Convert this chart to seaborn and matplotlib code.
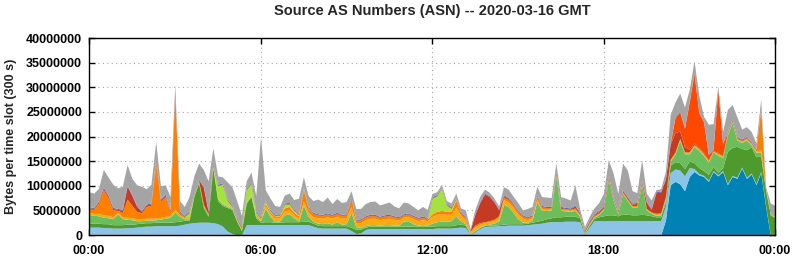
import numpy as np
import pandas as pd
import matplotlib
matplotlib.use('Agg')
import matplotlib.pyplot as plt
import seaborn as sb
from matplotlib.ticker import FuncFormatter, MultipleLocator

# values in millions of bytes per 300 s slot, one value every 10 minutes (00:00 .. 24:00)
slot_minutes = 10
time_labels = ['00:00', '06:00', '12:00', '18:00', '00:00']

dark_blue = [
    0, 0, 0, 0, 0, 0, 0, 0, 0, 0, 0, 0,
    0, 0, 0, 0, 0, 0, 0, 0, 0, 0, 0, 0,
    0, 0, 0, 0, 0, 0, 0, 0, 0, 0, 0, 0,
    0, 0, 0, 0, 0, 0, 0, 0, 0, 0, 0, 0,
    0, 0, 0, 0, 0, 0, 0, 0, 0, 0, 0, 0,
    0, 0, 0, 0, 0, 0, 0, 0, 0, 0, 0, 0,
    0, 0, 0, 0, 0, 0, 0, 0, 0, 0, 0, 0,
    0, 0, 0, 0, 0, 0, 0, 0, 0, 0, 0, 0,
    0, 0, 0, 0, 0, 0, 0, 0, 0, 0, 0, 0,
    0, 0, 0, 0, 0, 0, 0, 0, 0, 0, 0, 0,
    0, 3.0, 10.2, 10.9, 10.4, 9.0, 11.9, 12.9, 12.2, 11.9, 10.9, 12.9,
    12.0, 12.9, 10.2, 11.9, 11.5, 13.6, 11.5, 12.4, 10.2, 12.7, 6.0, 0,
    0]

light_blue = [
    1.6, 1.6, 1.6, 1.5, 1.5, 1.4, 1.4, 1.4, 1.5, 1.5, 1.6, 1.7,
    1.8, 1.8, 1.9, 1.9, 1.9, 1.9, 1.9, 2.0, 2.2, 2.4, 2.5, 2.6,
    2.6, 2.6, 2.5, 2.3, 1.8, 0.8, 0.3, 0.0, 0.0, 2.1, 2.1, 2.1,
    2.1, 2.1, 2.1, 2.1, 2.1, 2.1, 2.1, 2.1, 2.1, 2.1, 2.1, 1.8,
    1.5, 1.4, 1.4, 1.4, 1.4, 1.4, 1.4, 0.9, 0.3, 0.4, 1.1, 1.3,
    1.3, 1.3, 1.3, 1.3, 1.3, 1.3, 1.3, 1.3, 1.3, 1.3, 1.3, 1.3,
    1.3, 1.4, 1.4, 1.4, 1.4, 1.5, 1.6, 1.5, 0.1, 0.6, 1.3, 1.7,
    1.8, 1.8, 1.9, 1.9, 2.0, 2.0, 2.0, 2.0, 2.1, 2.2, 2.3, 2.4,
    2.6, 2.7, 2.7, 2.7, 2.8, 2.8, 2.8, 2.7, 0.1, 1.6, 2.9, 2.9,
    2.9, 2.9, 2.9, 2.9, 2.9, 2.9, 2.9, 2.9, 2.9, 2.9, 2.9, 2.9,
    2.9, 2.9, 2.5, 2.5, 2.8, 3.0, 1.8, 0.6, 0.3, 0.2, 0.2, 0.2,
    0.2, 0.2, 0.2, 0.2, 0.2, 0.2, 0.2, 0.2, 0.2, 0.2, 0.2, 0.1,
    0.1]

dark_green = [
    0.8, 0.8, 0.8, 0.8, 0.8, 0.7, 0.7, 0.7, 0.7, 0.7, 0.7, 0.7,
    0.7, 0.7, 0.7, 0.7, 0.7, 0.7, 0.8, 0.8, 0.8, 0.6, 5.3, 8.0,
    3.0, 1.2, 11.1, 4.7, 4.2, 4.8, 4.9, 2.8, 0.9, 4.4, 5.7, 1.4,
    0.5, 0.6, 0.6, 0.5, 0.5, 0.6, 0.6, 0.6, 0.6, 0.7, 0.7, 0.6,
    0.5, 0.5, 0.5, 0.5, 0.5, 0.5, 0.5, 0.7, 0.9, 0.8, 0.5, 0.5,
    0.5, 0.5, 0.5, 0.5, 0.5, 0.5, 0.5, 0.5, 0.5, 0.5, 0.5, 0.5,
    0.5, 0.5, 0.5, 0.5, 0.5, 0.6, 0.6, 0.5, 0.1, 0.2, 0.2, 0.2,
    0.2, 0.2, 0.2, 0.3, 0.3, 0.3, 0.3, 0.3, 0.3, 0.4, 0.5, 0.6,
    0.7, 0.8, 1.0, 1.0, 1.0, 1.0, 1.0, 0.8, 0.2, 0.4, 0.5, 0.8,
    1.0, 1.2, 1.2, 1.0, 1.4, 1.3, 1.2, 1.2, 1.3, 1.2, 1.0, 0.8,
    0.8, 0.8, 1.5, 1.5, 1.5, 1.5, 1.3, 1.2, 1.2, 1.0, 1.2, 0.8,
    0.5, 0.6, 6.6, 5.7, 6.3, 3.8, 5.6, 5.3, 5.5, 3.1, 3.0, 4.0,
    3.4]

mid_green = [
    1.8, 1.6, 1.5, 1.3, 1.2, 1.2, 2.2, 1.2, 1.0, 0.9, 0.6, 0.5,
    0.5, 0.5, 0.5, 0.6, 0.8, 1.0, 2.0, 1.0, 0.3, 0.3, 0.3, 0.3,
    0.3, 0.3, 0.3, 0.3, 0.3, 0.2, 0.2, 0.1, 0.1, 0.2, 0.2, 0.3,
    0.3, 2.7, 1.1, 0.1, 0.3, 1.4, 1.6, 0.8, 0.1, 3.3, 1.0, 0.4,
    0.4, 0.4, 0.6, 0.3, 0.8, 0.3, 0.4, 3.0, 0.5, 0.3, 0.3, 0.3,
    0.3, 0.2, 0.3, 0.3, 0.2, 0.2, 1.0, 1.1, 0.5, 0.2, 0.3, 0.2,
    0.6, 0.8, 0.9, 0.9, 1.0, 1.8, 0.6, 0.3, 0.1, 0.1, 0.1, 0.1,
    0.2, 0.4, 0.8, 4.0, 3.5, 2.3, 1.0, 0.3, 0.2, 0.4, 4.0, 2.0,
    1.7, 1.6, 8.3, 1.3, 1.1, 1.0, 1.2, 0.3, 0.1, 0.2, 0.2, 0.5,
    1.3, 7.2, 3.0, 0.4, 4.1, 2.8, 1.6, 1.6, 6.1, 1.0, 0.5, 0.3,
    0.4, 0.6, 0.8, 1.5, 4.5, 3.0, 1.5, 3.3, 3.5, 3.0, 2.5, 3.0,
    3.5, 2.0, 3.3, 5.0, 1.3, 1.2, 2.0, 0.4, 0.9, 0.8, 0.1, 0.1,
    0.1]

amber = [
    0.4, 0.4, 0.5, 0.5, 0.5, 0.4, 0.3, 0.4, 0.4, 0.4, 0.4, 0.4,
    0.4, 0.4, 0.4, 0.4, 0.4, 0.4, 0.5, 0.3, 0.2, 0.2, 0.1, 0.1,
    0.1, 0.1, 0.1, 0.1, 0.1, 0.1, 0.1, 0.1, 0.2, 0.1, 0.1, 0.2,
    0.2, 0.5, 0.5, 0.7, 0.6, 0.8, 0.8, 0.6, 0.6, 0.8, 0.8, 0.9,
    1.1, 1.1, 1.2, 1.2, 1.1, 1.2, 1.2, 1.2, 0.8, 1.0, 1.2, 1.3,
    1.3, 1.1, 1.2, 1.3, 1.2, 1.0, 0.8, 0.9, 1.0, 0.9, 1.0, 0.9,
    1.4, 1.5, 1.5, 1.4, 1.3, 1.8, 1.2, 0.8, 0.3, 0.7, 0.6, 0.5,
    0.5, 0.5, 0.6, 1.0, 0.9, 1.0, 1.0, 0.8, 0.5, 0.5, 0.4, 0.3,
    0.2, 0.2, 0.2, 0.2, 0.2, 0.2, 0.2, 0.2, 0.1, 0.1, 0.1, 0.1,
    0.1, 0.1, 0.1, 0.1, 0.1, 0.1, 0.1, 0.1, 0.1, 0.1, 0.1, 0.2,
    0.2, 0.3, 0.2, 0.2, 0.2, 0.2, 0.2, 0.2, 0.2, 0.2, 0.2, 0.1,
    0.2, 0.2, 0.2, 0.2, 0.2, 0.2, 0.2, 0.2, 0.2, 0.5, 0.1, 0.1,
    0.1]

orange = [
    0.7, 0.8, 2.1, 5.1, 3.5, 1.4, 0.4, 0.9, 3.7, 2.5, 1.5, 1.2,
    2.4, 2.6, 11.0, 3.2, 4.0, 0.8, 23.3, 0.4, 0.2, 0.2, 0.1, 0.1,
    0.2, 0.1, 0.1, 0.1, 0.1, 0.1, 0.1, 0.1, 0.2, 0.1, 0.1, 0.2,
    0.2, 0.5, 0.4, 0.4, 0.4, 0.6, 0.7, 0.5, 0.5, 2.3, 0.8, 0.6,
    0.5, 0.5, 0.5, 0.5, 0.5, 0.5, 0.5, 1.5, 0.4, 0.5, 0.5, 0.5,
    0.5, 0.4, 0.5, 0.5, 0.4, 0.4, 0.4, 0.4, 0.4, 0.4, 0.4, 0.4,
    0.5, 0.6, 0.7, 0.6, 0.6, 1.4, 0.4, 0.4, 0.2, 0.4, 0.3, 0.2,
    0.2, 0.3, 0.4, 0.5, 0.5, 0.5, 0.4, 0.4, 0.3, 0.3, 0.7, 0.4,
    0.3, 0.2, 0.2, 0.2, 0.2, 0.2, 0.3, 0.2, 0.1, 0.2, 0.2, 0.2,
    0.2, 0.2, 0.2, 0.2, 0.2, 0.2, 0.2, 0.2, 0.3, 0.2, 0.2, 0.2,
    0.2, 0.2, 0.2, 0.2, 0.2, 0.2, 0.2, 0.2, 0.2, 0.2, 0.2, 0.1,
    0.2, 0.2, 0.1, 0.1, 0.1, 0.1, 0.1, 0.1, 0.1, 8.0, 0.1, 0.1,
    0.1]

light_green = [
    0, 0, 0, 0, 0, 0, 0, 0, 0, 0, 0, 0,
    0, 0, 0.3, 0, 0, 0, 0, 0, 0, 0.8, 0, 0,
    0, 0, 0, 2.5, 3.8, 1.0, 0.2, 0.1, 0, 2.2, 2.3, 0.3,
    0.1, 0.5, 0.2, 0.1, 0.1, 0.7, 0.5, 0.4, 0.2, 0.2, 0.1, 0,
    0, 0, 0, 0, 0, 0, 0, 0, 0, 0, 0, 0,
    0, 0, 0, 0, 0, 0, 0, 0, 0, 0, 0, 0,
    3.2, 3.1, 4.6, 1.3, 0.6, 0.2, 0, 0, 0, 0, 0, 0,
    0, 0, 0, 0, 0, 0, 0, 0, 0, 0, 0, 0,
    0, 0, 0, 0, 0, 0, 0, 0, 0, 0, 0, 0,
    0, 0, 0, 0, 0, 0, 0, 0, 0, 0, 0, 0,
    0, 0, 0, 0, 0, 0, 0, 0, 0, 0, 0, 0,
    0, 0, 0, 0, 0, 0, 0, 0, 0, 0, 0, 0,
    0]

dark_red = [
    0.2, 0.2, 0.3, 0.4, 0.4, 0.3, 0.2, 0.4, 2.6, 2.0, 1.0, 0.3,
    0.3, 0.3, 0.6, 0.3, 0.3, 0.2, 0.8, 0.2, 0.1, 0.2, 0.1, 0.1,
    3.5, 0.5, 0.2, 0.1, 0.1, 0.1, 0.1, 0.1, 0.2, 0.1, 0.2, 0.1,
    0.1, 0.1, 0.1, 0.1, 0.1, 0.1, 0.1, 0.1, 0.1, 0.1, 0.1, 0.1,
    0.1, 0.1, 0.1, 0.1, 0.1, 0.1, 0.1, 0.1, 0.1, 0.1, 0.1, 0.1,
    0.1, 0.1, 0.1, 0.1, 0.1, 0.1, 0.1, 0.1, 0.1, 0.1, 0.1, 0.1,
    0.1, 0.1, 0.1, 0.1, 0.1, 0.1, 0.1, 0.1, 0.1, 2.2, 4.0, 5.6,
    4.9, 3.5, 1.2, 0.3, 0.2, 0.2, 0.1, 0.1, 0.1, 0.1, 0.1, 0.1,
    0.1, 0.1, 0.3, 0.2, 0.1, 0.1, 0.4, 0.2, 0.2, 0.3, 0.2, 0.3,
    0.3, 0.4, 0.2, 0.2, 0.3, 0.3, 0.3, 0.4, 0.3, 1.2, 0.5, 4.2,
    4.2, 3.5, 3.1, 4.0, 1.5, 1.0, 0.5, 0.3, 0.2, 0.2, 0.1, 0.1,
    0.1, 0.1, 0.1, 0.1, 0.1, 0.1, 0.1, 0.1, 0.1, 0.1, 0, 0,
    0]

red_orange = [
    0, 0, 0, 0, 0, 0, 0, 0, 0, 0, 0, 0,
    0, 0, 0, 0, 0, 0, 0, 0, 0, 0, 0, 0,
    0, 0, 0, 0, 0, 0, 0, 0, 0, 0, 0, 0,
    0, 0, 0, 0, 0, 0, 0, 0, 0, 0, 0, 0,
    0, 0, 0, 0, 0, 0, 0, 0, 0, 0, 0, 0,
    0, 0, 0, 0, 0, 0, 0, 0, 0, 0, 0, 0,
    0, 0, 0, 0, 0, 0, 0, 0, 0, 0, 0, 0,
    0, 0, 0, 0, 0, 0, 0, 0, 0, 0, 0, 0,
    0, 0, 0, 0, 0, 0, 0, 0, 0, 0, 0, 0,
    0, 0, 0, 0, 0, 0, 0, 0, 0, 0, 0, 0,
    0, 0, 0, 3.0, 3.9, 3.7, 9.6, 14.1, 7.0, 6.2, 1.0, 0.1,
    12.7, 2.3, 0.1, 0.1, 0.1, 0.1, 0.1, 0.1, 0.1, 0.1, 0, 0,
    0]

small_blue = [
    0.2, 0.2, 0.2, 0.2, 0.2, 0.2, 0.2, 0.2, 0.2, 0.2, 0.2, 0.2,
    0.2, 0.2, 0.2, 0.2, 0.2, 0.2, 0.2, 0.2, 0.2, 0.2, 0.2, 0.2,
    0.2, 0.2, 0.2, 0.2, 0.2, 0.2, 0.2, 0.2, 0.2, 0.2, 0.2, 0.2,
    0.2, 0.2, 0.2, 0.2, 0.2, 0.2, 0.2, 0.2, 0.2, 0.2, 0.2, 0.2,
    0.2, 0.2, 0.2, 0.2, 0.2, 0.2, 0.2, 0.2, 0.2, 0.2, 0.2, 0.2,
    0.2, 0.2, 0.2, 0.2, 0.2, 0.2, 0.2, 0.2, 0.2, 0.2, 0.2, 0.2,
    0.2, 0.2, 0.2, 0.2, 0.2, 0.2, 0.2, 0.2, 0.1, 0.2, 0.2, 0.2,
    0.2, 0.2, 0.2, 0.2, 0.2, 0.2, 0.2, 0.2, 0.2, 0.2, 0.2, 0.2,
    0.2, 0.2, 0.2, 0.2, 0.2, 0.2, 0.2, 0.2, 0.2, 0.2, 0.2, 0.2,
    0.2, 0.2, 0.2, 0.2, 0.2, 0.2, 0.2, 0.2, 0.2, 0.2, 0.2, 0.2,
    0.2, 0.2, 0.2, 0.2, 0.2, 0.2, 0.2, 0.2, 0.2, 0.2, 0.2, 0.2,
    0.2, 0.2, 0.2, 0.2, 0.2, 0.2, 0.2, 0.2, 0.2, 0.2, 0.1, 0.1,
    0.1]

other = [
    3.1, 2.9, 2.5, 3.5, 3.7, 4.7, 4.2, 4.7, 4.2, 3.3, 4.2, 4.9,
    3.1, 3.8, 3.4, 2.7, 1.9, 2.6, 1.1, 2.1, 1.8, 2.9, 3.4, 3.2,
    3.4, 6.0, 3.2, 1.7, 1.2, 3.5, 3.7, 3.5, 2.2, 1.6, 1.9, 3.2,
    16.3, 2.0, 2.3, 1.8, 1.5, 1.6, 1.9, 1.9, 3.1, 2.1, 2.2, 2.4,
    3.0, 2.6, 3.2, 2.2, 2.8, 2.4, 2.5, 1.4, 2.2, 2.1, 2.5, 2.6,
    2.7, 2.3, 2.3, 2.5, 2.0, 1.8, 2.4, 2.0, 1.8, 1.5, 2.0, 1.6,
    0.6, 0.6, 0.4, 0.6, 0.8, 0.9, 0.8, 1.3, 0.3, 0.8, 1.1, 0.8,
    0.7, 0.6, 0.6, 1.6, 1.7, 1.4, 1.6, 1.0, 1.7, 1.7, 1.7, 1.8,
    1.9, 1.8, 1.7, 2.0, 1.9, 1.6, 4.1, 0.7, 0.7, 0.8, 1.2, 1.6,
    2.5, 3.1, 4.8, 3.5, 5.4, 5.4, 2.5, 2.0, 4.1, 1.7, 1.7, 0.4,
    0.5, 1.5, 5.8, 3.0, 3.6, 4.2, 2.4, 2.4, 3.4, 1.0, 6.0, 5.1,
    0.7, 2.3, 4.5, 3.0, 4.0, 2.0, 2.0, 2.0, 1.2, 1.9, 0.3, 2.0,
    2.1]

df = pd.DataFrame({
    'dark_blue': dark_blue, 'light_blue': light_blue, 'dark_green': dark_green,
    'mid_green': mid_green, 'amber': amber, 'orange': orange,
    'light_green': light_green, 'dark_red': dark_red, 'red_orange': red_orange,
    'small_blue': small_blue, 'other': other,
}) * 1e6

colors = {
    'dark_blue': '#0082b5', 'light_blue': '#8bc4e4', 'dark_green': '#4f9a2d',
    'mid_green': '#6cbd5c', 'amber': '#ffaa12', 'orange': '#ff8000',
    'light_green': '#a3e23f', 'dark_red': '#c43a22', 'red_orange': '#ff4800',
    'small_blue': '#4a5fc1', 'other': '#a4a4a4',
}

hours = np.arange(len(df)) * slot_minutes / 60

sb.set_style('ticks')
plt.rcParams['font.family'] = ['Liberation Sans', 'DejaVu Sans']

fig = plt.figure(figsize=(7.95, 2.6), dpi=100)
ax = fig.add_axes([89 / 795, 25 / 260, 686 / 795, 197 / 260])
ax.set_axisbelow(True)

ax.stackplot(hours, [df[c] for c in df.columns],
             colors=[colors[c] for c in df.columns], linewidth=0)

ax.set_xlim(0, 24)
ax.set_ylim(0, 40e6)
ax.set_xticks([0, 6, 12, 18, 24])
ax.set_xticklabels(time_labels)
ax.yaxis.set_major_locator(MultipleLocator(5e6))
ax.yaxis.set_major_formatter(FuncFormatter(lambda v, p: '%d' % round(v)))
ax.grid(True, color='#a8a8a8', linestyle=(0, (1, 3)), linewidth=0.8)
ax.tick_params(direction='in', length=4, width=1, top=True, right=True,
               labelsize=9, pad=5, colors='black')
ax.tick_params(axis='x', pad=7)
for lab in ax.get_xticklabels() + ax.get_yticklabels():
    lab.set_fontweight('bold')
for sp in ax.spines.values():
    sp.set_color('black')
    sp.set_linewidth(1)

fig.text(432 / 795, 1 - 11 / 260, 'Source AS Numbers (ASN) -- 2020-03-16 GMT',
         ha='center', va='center', fontsize=10.5, fontweight='bold')
fig.text(11 / 795, 1 - 136 / 260, 'Bytes per time slot (300 s)', rotation=90,
         ha='center', va='center', fontsize=9, fontweight='bold')

fig.savefig('out.png', dpi=100)
